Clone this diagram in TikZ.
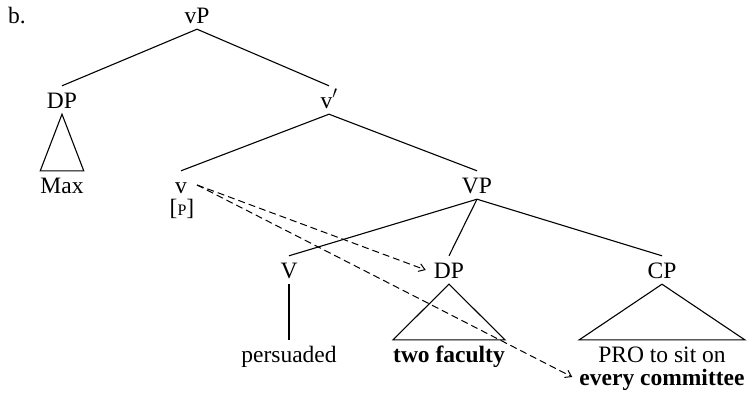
\documentclass[tikz,border=0pt]{standalone}
\usepackage{fontspec}
\setmainfont{Liberation Serif}
\usetikzlibrary{arrows.meta}
\begin{document}
\begin{tikzpicture}[x=1pt,y=-1pt,
  every node/.style={font=\fontsize{23.5}{27}\selectfont},
  cat/.style={anchor=base, text height=16pt, text depth=0pt, inner xsep=2pt, inner ysep=6pt},
  leaf/.style={anchor=base, text height=16pt, text depth=0pt, inner xsep=0pt, inner ysep=6pt},
  edge/.style={line width=1.1pt},
  mov/.style={line width=1pt, dash pattern=on 7pt off 4pt, -{Straight Barb[length=6pt,width=8pt]}}]
\useasboundingbox (0,0) rectangle (756,399);
\node[anchor=base west, inner sep=0pt] (lbl) at (8,23) {b.};
\node[cat] (vP) at (197,23) {vP};
\node[cat] (DPa) at (62,108) {DP};
\node[leaf] (Max) at (62,193) {Max};
\node[cat] (vbar) at (329,108) {v$'$};
\node[cat, inner xsep=10pt] (v) at (181,193) {v};
\node[anchor=base, inner sep=0pt] (feat) at (182,215) {[{\fontsize{16}{16}\selectfont P}]};
\node[cat] (VP) at (477,193) {VP};
\node[cat] (V) at (289,278) {V};
\node[cat] (DPb) at (449,278) {DP};
\node[cat] (CP) at (662,278) {CP};
\node[leaf] (pers) at (289,362) {persuaded};
\node[leaf] (two) at (449,362) {\textbf{two faculty}};
\node[leaf] (pro) at (662,362) {PRO to sit on};
\node[leaf] (every) at (662,385) {\textbf{every committee}};
\draw[edge] (vP.south) -- (DPa.north);
\draw[edge] (vP.south) -- (vbar.north);
\draw[edge] (DPa.south) -- (Max.north west) -- (Max.north east) -- cycle;
\draw[edge] (vbar.south) -- (v.north);
\draw[edge] (vbar.south) -- (VP.north);
\draw[edge] (VP.south) -- (V.north);
\draw[edge] (VP.south) -- (DPb.north);
\draw[edge] (VP.south) -- (CP.north);
\draw[edge] (V.south) -- (pers.north);
\draw[edge] (DPb.south) -- (two.north west) -- (two.north east) -- cycle;
\draw[edge] (CP.south) -- (pro.north -| every.west) -- (pro.north -| every.east) -- cycle;
\draw[mov] (v.east) -- ([xshift=-6pt]DPb.west);
\draw[mov] (v.east) -- ([xshift=-7pt]every.west);
\end{tikzpicture}
\end{document}
